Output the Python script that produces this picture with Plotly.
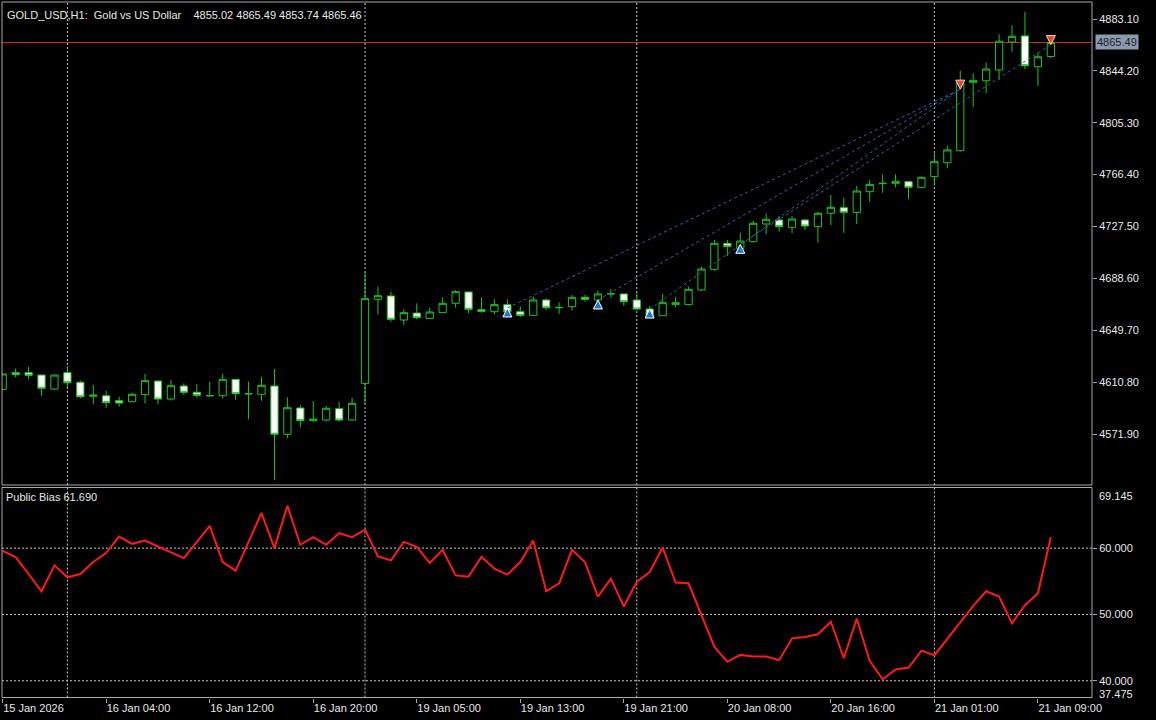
import plotly.graph_objects as go

# ---------------- data ----------------
bar_index = list(range(82))

open_ = [4605.4, 4617.9, 4617.9, 4616.1, 4605.6, 4617.9, 4610.7, 4600.2, 4600.6, 4596.9,
         4596.1, 4601.4, 4611.6, 4598.1, 4607.9, 4603.2, 4600.5, 4600.6, 4612.9, 4602.3,
         4601.7, 4607.9, 4571.7, 4591.4, 4581.9, 4582.4, 4590.9, 4582.4, 4609.9, 4672.9,
         4675.4, 4657.4, 4662.6, 4658.6, 4662.9, 4669.9, 4678.4, 4665.1, 4663.6, 4668.9,
         4663.6, 4660.9, 4672.4, 4666.6, 4667.4, 4674.4, 4672.4, 4676.9, 4676.9, 4672.4,
         4665.6, 4660.6, 4668.9, 4668.9, 4679.9, 4695.4, 4714.9, 4710.9, 4716.1, 4729.4,
         4732.4, 4726.9, 4732.4, 4727.4, 4737.4, 4741.6, 4738.1, 4753.6, 4759.6, 4759.9,
         4761.1, 4756.9, 4764.9, 4775.3, 4784.3, 4835.6, 4836.8, 4844.9, 4865.9, 4870.4,
         4847.3, 4855.02]
high = [4617.3, 4621.1, 4622.4, 4616.6, 4616.5, 4622.9, 4611.9, 4608.6, 4604.4, 4599.9,
        4602.9, 4616.9, 4612.4, 4612.4, 4609.9, 4609.2, 4611.1, 4616.9, 4613.2, 4611.1,
        4614.9, 4620.6, 4599.4, 4593.6, 4596.6, 4592.9, 4596.1, 4599.1, 4692.6, 4682.4,
        4678.6, 4665.4, 4669.9, 4666.6, 4674.4, 4679.9, 4678.9, 4674.4, 4672.9, 4672.9,
        4667.4, 4674.9, 4673.6, 4670.6, 4676.1, 4676.1, 4679.4, 4680.4, 4677.4, 4677.4,
        4667.9, 4676.9, 4674.9, 4682.4, 4697.4, 4717.4, 4717.4, 4722.8, 4731.9, 4737.4,
        4735.4, 4735.4, 4733.0, 4738.6, 4751.1, 4749.1, 4758.1, 4762.4, 4766.6, 4766.6,
        4761.5, 4765.0, 4783.6, 4787.9, 4844.3, 4842.4, 4850.6, 4871.6, 4878.6, 4888.6,
        4857.8, 4865.49]
low = [4604.8, 4614.4, 4613.0, 4600.6, 4604.9, 4606.9, 4598.6, 4594.2, 4591.6, 4592.4,
       4595.6, 4594.9, 4594.2, 4596.9, 4601.1, 4599.1, 4600.1, 4598.6, 4597.4, 4582.9,
       4596.9, 4537.4, 4568.7, 4576.9, 4580.6, 4581.1, 4581.1, 4582.0, 4594.9, 4661.6,
       4656.1, 4653.6, 4657.9, 4658.4, 4662.6, 4666.6, 4662.4, 4662.9, 4661.6, 4661.0,
       4659.4, 4660.4, 4664.9, 4661.9, 4664.4, 4671.1, 4671.0, 4674.1, 4667.9, 4665.1,
       4658.9, 4660.4, 4666.9, 4668.4, 4679.1, 4694.4, 4705.4, 4708.4, 4715.6, 4721.9,
       4723.6, 4722.4, 4724.9, 4715.4, 4728.6, 4722.8, 4729.4, 4746.1, 4752.8, 4756.9,
       4747.9, 4756.0, 4757.9, 4771.1, 4783.6, 4817.3, 4827.4, 4837.4, 4858.6, 4845.4,
       4832.9, 4853.74]
close = [4616.9, 4616.4, 4615.9, 4606.2, 4616.1, 4610.4, 4599.8, 4601.1, 4595.4, 4595.1,
         4601.7, 4611.9, 4598.1, 4608.1, 4603.2, 4600.9, 4600.7, 4612.9, 4602.1, 4602.0,
         4608.4, 4571.7, 4591.6, 4581.9, 4583.1, 4591.2, 4582.4, 4594.9, 4673.4, 4675.6,
         4657.9, 4662.9, 4659.1, 4663.4, 4669.9, 4678.6, 4665.4, 4663.9, 4668.9, 4663.6,
         4660.9, 4672.4, 4666.6, 4666.8, 4674.4, 4672.9, 4676.9, 4677.1, 4671.1, 4665.6,
         4659.9, 4670.4, 4670.4, 4680.4, 4695.6, 4714.9, 4712.4, 4716.6, 4729.9, 4732.9,
         4727.4, 4733.1, 4727.9, 4737.4, 4741.9, 4738.1, 4754.1, 4759.1, 4759.9, 4761.4,
         4756.9, 4764.4, 4776.1, 4784.9, 4834.9, 4837.1, 4845.6, 4866.4, 4870.1, 4848.1,
         4854.8, 4865.46]

public_bias = [59.6, 58.65, 56.1, 53.5, 57.4, 55.6, 56.1, 57.9, 59.3, 61.75,
               60.65, 61.15, 60.25, 59.35, 58.5, 60.9, 63.35, 57.9, 56.6, 60.95,
               65.3, 60.0, 66.4, 60.5, 61.65, 60.5, 62.25, 61.65, 62.8, 58.75,
               58.15, 60.95, 60.2, 57.75, 59.75, 55.9, 55.7, 58.7, 56.9, 56.0,
               57.9, 61.15, 53.5, 54.7, 59.75, 57.85, 52.7, 55.4, 51.2, 54.9,
               56.4, 60.1, 54.8, 54.7, 49.75, 45.1, 42.85, 43.9, 43.65, 43.65,
               43.1, 46.4, 46.6, 47.0, 48.9, 43.4, 49.35, 43.0, 40.2, 41.7,
               42.0, 44.55, 43.85, 46.3, 48.8, 51.3, 53.5, 52.7, 48.65, 51.4,
               53.2, 61.69]

# trades: buy (open) bar / price -> sell (close) bar / price
buy_bars = [39, 46, 50, 57]
buy_prices = [4666.4, 4672.4, 4665.6, 4714.1]
sell_bars = [74, 74, 74, 81]
sell_prices = [4830.5, 4830.5, 4830.5, 4863.9]

time_tick_bars = [0, 8, 16, 24, 32, 40, 48, 56, 64, 72, 80]
time_tick_labels = ["15 Jan 2026", "16 Jan 04:00", "16 Jan 12:00", "16 Jan 20:00",
                    "19 Jan 05:00", "19 Jan 13:00", "19 Jan 21:00", "20 Jan 08:00",
                    "20 Jan 16:00", "21 Jan 01:00", "21 Jan 09:00"]
day_sep_bars = [5, 28, 49, 72]

price_ticks = [4571.90, 4610.80, 4649.70, 4688.60, 4727.50, 4766.40, 4805.30, 4844.20, 4883.10]
price_range = [4533.66, 4895.85]
ask_price = 4865.49

bias_levels = [60, 50, 40]
bias_range = [37.475, 69.145]

title_text = "GOLD_USD,H1:  Gold vs US Dollar    4855.02 4865.49 4853.74 4865.46"
ind_title = "Public Bias 61.690"

# ---------------- style / geometry ----------------
W, H = 1156, 720
FONT = "Liberation Sans, Arial, sans-serif"
TXT = "#e8e8e8"
FRAME = "#a8a8a8"
GRID = "#c8c8c8"
GREEN = "#22c022"

def px(x):
    return x / W

def py(y):
    return 1 - y / H

x_dom = [px(2), px(1092)]
main_dom = [py(485), py(2)]
ind_dom = [py(697.5), py(487.5)]
x_range = [-0.054, 84.18]

fig = go.Figure()

fig.add_trace(go.Candlestick(
    x=bar_index, open=open_, high=high, low=low, close=close,
    increasing=dict(line=dict(color=GREEN, width=1), fillcolor="black"),
    decreasing=dict(line=dict(color=GREEN, width=1), fillcolor="white"),
    whiskerwidth=0, xaxis="x", yaxis="y", showlegend=False, hoverinfo="skip"))

# trade lines
for b, bp, s, sp in zip(buy_bars, buy_prices, sell_bars, sell_prices):
    fig.add_trace(go.Scatter(x=[b, s], y=[bp, sp], mode="lines",
                             line=dict(color="#2d64a8", width=1, dash="3px,3px"),
                             xaxis="x", yaxis="y", showlegend=False, hoverinfo="skip"))

fig.add_trace(go.Scatter(x=buy_bars, y=buy_prices, mode="markers",
                         marker=dict(symbol="arrow-up", size=9, color="#1f78d0",
                                     line=dict(color="white", width=1)),
                         xaxis="x", yaxis="y", showlegend=False, hoverinfo="skip"))
fig.add_trace(go.Scatter(x=sorted(set(sell_bars)), y=[sell_prices[0], sell_prices[-1]], mode="markers",
                         marker=dict(symbol="arrow-down", size=9, color="#e8452f",
                                     line=dict(color="#ffd0c8", width=1)),
                         xaxis="x", yaxis="y", showlegend=False, hoverinfo="skip"))

fig.add_trace(go.Scatter(x=bar_index, y=public_bias, mode="lines",
                         line=dict(color="#ff1a1a", width=2),
                         xaxis="x2", yaxis="y2", showlegend=False, hoverinfo="skip"))

shapes = []
# panel frames
for dom in (main_dom, ind_dom):
    shapes.append(dict(type="rect", xref="paper", yref="paper", x0=x_dom[0], x1=x_dom[1],
                       y0=dom[0], y1=dom[1], line=dict(color=FRAME, width=1), layer="above"))
# day separators (grid)
for b in day_sep_bars:
    for xr, dom in (("x", main_dom), ("x2", ind_dom)):
        shapes.append(dict(type="line", xref=xr, yref="paper", x0=b, x1=b, y0=dom[0], y1=dom[1],
                           line=dict(color=GRID, width=1, dash="2px,2px"), layer="below"))
# indicator levels
for lv in bias_levels:
    shapes.append(dict(type="line", xref="paper", yref="y2", x0=x_dom[0], x1=x_dom[1], y0=lv, y1=lv,
                       line=dict(color=GRID, width=1, dash="2px,2px"), layer="below"))
# ask line
shapes.append(dict(type="line", xref="paper", yref="y", x0=x_dom[0], x1=x_dom[1], y0=ask_price, y1=ask_price,
                   line=dict(color="#e02020", width=1), layer="below"))

annotations = [
    dict(text=title_text, xref="paper", yref="paper", x=px(5), y=py(15), xanchor="left", yanchor="middle",
         showarrow=False, font=dict(family=FONT, size=11, color=TXT)),
    dict(text=ind_title, xref="paper", yref="paper", x=px(4), y=py(497), xanchor="left", yanchor="middle",
         showarrow=False, font=dict(family=FONT, size=11, color=TXT)),
    dict(text=f"{ask_price:.2f}", xref="paper", yref="y", x=px(1095), y=ask_price, xanchor="left",
         yanchor="middle", showarrow=False, bgcolor="#8c9aae", borderpad=1,
         font=dict(family=FONT, size=11, color="#1c2430")),
    dict(text=f"{bias_range[1]:.3f}", xref="paper", yref="paper", x=px(1097), y=py(496), xanchor="left",
         yanchor="middle", showarrow=False, font=dict(family=FONT, size=11, color=TXT)),
    dict(text=f"{bias_range[0]:.3f}", xref="paper", yref="paper", x=px(1097), y=py(693.5), xanchor="left",
         yanchor="middle", showarrow=False, font=dict(family=FONT, size=11, color=TXT)),
]

axis_common = dict(showgrid=False, zeroline=False, showline=False, automargin=False)

fig.update_layout(
    width=W, height=H,
    margin=dict(l=0, r=0, t=0, b=0),
    paper_bgcolor="black", plot_bgcolor="black",
    font=dict(family=FONT, size=11, color=TXT),
    showlegend=False,
    shapes=shapes, annotations=annotations,
    xaxis=dict(domain=x_dom, range=x_range, anchor="y", showticklabels=False, ticks="",
               rangeslider=dict(visible=False), **axis_common),
    xaxis2=dict(domain=x_dom, range=x_range, anchor="y2", matches="x",
                tickmode="array", tickvals=time_tick_bars, ticktext=time_tick_labels,
                ticks="outside", ticklen=4, tickcolor=FRAME, ticklabelposition="outside right",
                tickfont=dict(family=FONT, size=11, color=TXT), **axis_common),
    yaxis=dict(domain=main_dom, range=price_range, anchor="x", side="right",
               tickmode="array", tickvals=price_ticks, ticktext=[f"{v:.2f}" for v in price_ticks],
               ticks="outside", ticklen=4, tickcolor=FRAME,
               tickfont=dict(family=FONT, size=11, color=TXT), **axis_common),
    yaxis2=dict(domain=ind_dom, range=bias_range, anchor="x2", side="right",
                tickmode="array", tickvals=bias_levels, ticktext=[f"{v:.3f}" for v in bias_levels],
                ticks="outside", ticklen=4, tickcolor=FRAME,
                tickfont=dict(family=FONT, size=11, color=TXT), **axis_common),
    boxgap=0.44, boxgroupgap=0,
)

fig.write_html(
    "out.html",
    config={"displayModeBar": False},
    post_script="document.body.style.margin='0';document.body.style.background='black';"
                "document.body.style.overflow='hidden';",
)
